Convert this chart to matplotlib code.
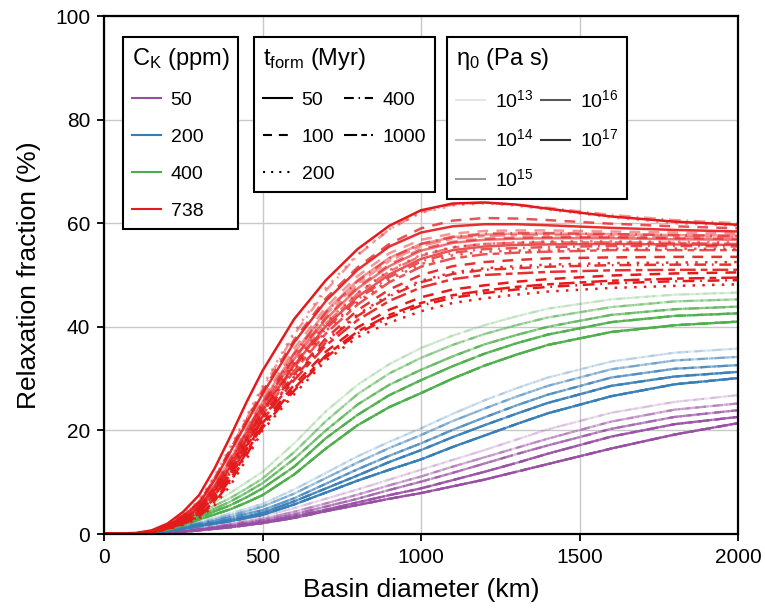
import matplotlib
matplotlib.use('Agg')
import matplotlib.pyplot as plt
from matplotlib.lines import Line2D

plt.rcParams['font.family'] = ['Liberation Sans', 'DejaVu Sans']
plt.rcParams['mathtext.fontset'] = 'custom'
plt.rcParams['mathtext.rm'] = 'Liberation Sans'
plt.rcParams['mathtext.it'] = 'Liberation Sans:italic'
plt.rcParams['mathtext.bf'] = 'Liberation Sans:bold'

# ---------------- data ----------------
diameter_km = [0, 100, 150, 200, 250, 300, 350, 400, 450, 500, 600, 700, 800, 900, 1000,
               1100, 1200, 1300, 1400, 1600, 1800, 2000]

ck_values = [50, 200, 400, 738]
ck_colors = ['#984ea3', '#377eb8', '#4daf4a', '#e41a1c']
tform_values = [50, 100, 200, 400, 1000]
tform_styles = ['-', (0, (4.3, 3.3)), (0, (1, 2.9)), (0, (4.7, 2.3, 0.7, 2.3)), (0, (6.3, 2, 2.7, 2))]
eta_labels = [r'10$^{\mathregular{13}}$', r'10$^{\mathregular{14}}$', r'10$^{\mathregular{15}}$',
              r'10$^{\mathregular{16}}$', r'10$^{\mathregular{17}}$']
eta_alphas = [0.1, 0.25, 0.4, 0.65, 0.8]
eta_alphas_red = [0.45, 0.6, 0.75, 0.9, 1.0]

# C_K = 50 ppm (rows: eta 1e13 .. 1e17), nearly independent of t_form
ck50_eta = [
    [0, 0, 0.15, 0.4, 0.75, 1.2, 1.7, 2.2, 2.8, 3.4, 5.0, 6.8, 8.6, 10.5, 12.4, 14.3, 16.2, 18.2, 20.2, 23.4, 25.5, 26.8],
    [0, 0, 0.1, 0.3, 0.6, 1.0, 1.4, 1.9, 2.4, 2.9, 4.3, 5.9, 7.6, 9.4, 11.1, 13.0, 14.8, 16.6, 18.4, 21.7, 24.0, 25.2],
    [0, 0, 0.1, 0.3, 0.55, 0.9, 1.3, 1.7, 2.1, 2.6, 3.8, 5.3, 6.8, 8.5, 10.1, 11.8, 13.6, 15.4, 17.1, 20.3, 22.6, 23.9],
    [0, 0, 0.05, 0.2, 0.5, 0.8, 1.15, 1.5, 1.9, 2.3, 3.4, 4.7, 6.1, 7.5, 8.8, 10.4, 12.0, 13.7, 15.5, 18.8, 21.2, 22.6],
    [0, 0, 0.05, 0.2, 0.4, 0.7, 1.0, 1.3, 1.7, 2.1, 3.1, 4.4, 5.6, 6.8, 7.9, 9.2, 10.5, 12.0, 13.5, 16.5, 19.2, 21.4],
]
# C_K = 200 ppm
ck200_eta = [
    [0, 0.05, 0.3, 0.9, 1.6, 2.4, 3.2, 4.0, 4.9, 5.8, 8.6, 11.8, 15.0, 17.8, 20.4, 23.2, 25.8, 28.1, 30.2, 33.3, 35.0, 35.8],
    [0, 0.05, 0.3, 0.8, 1.4, 2.1, 2.8, 3.6, 4.4, 5.3, 7.8, 10.8, 13.8, 16.6, 19.1, 21.8, 24.2, 26.5, 28.6, 31.8, 33.5, 34.2],
    [0, 0.05, 0.25, 0.7, 1.3, 1.9, 2.5, 3.2, 3.9, 4.6, 6.9, 9.7, 12.5, 15.1, 17.5, 20.1, 22.5, 24.8, 26.9, 30.2, 31.9, 32.6],
    [0, 0.05, 0.2, 0.6, 1.1, 1.7, 2.2, 2.8, 3.4, 4.1, 6.3, 8.8, 11.3, 13.9, 16.2, 18.7, 21.0, 23.2, 25.3, 28.6, 30.4, 31.3],
    [0, 0, 0.15, 0.5, 1.0, 1.5, 2.0, 2.5, 3.1, 3.7, 5.7, 8.0, 10.3, 12.4, 14.4, 16.8, 19.0, 21.2, 23.3, 26.6, 28.9, 30.1],
]
# C_K = 400 ppm
ck400_eta = [
    [0, 0.1, 0.6, 1.5, 2.9, 4.5, 6.2, 8.0, 10.0, 12.0, 17.5, 23.7, 28.8, 32.8, 35.9, 38.3, 40.3, 42.0, 43.5, 45.3, 46.2, 46.6],
    [0, 0.1, 0.5, 1.3, 2.6, 4.0, 5.5, 7.0, 8.8, 10.7, 15.8, 21.8, 27.0, 31.0, 34.0, 36.5, 38.6, 40.3, 41.8, 43.8, 44.9, 45.3],
    [0, 0.1, 0.45, 1.1, 2.3, 3.6, 4.9, 6.3, 8.0, 9.8, 14.5, 20.0, 25.0, 28.8, 31.7, 34.3, 36.6, 38.4, 40.0, 42.3, 43.4, 43.9],
    [0, 0.1, 0.4, 1.0, 2.0, 3.2, 4.4, 5.6, 7.1, 8.8, 13.0, 18.5, 23.0, 26.8, 29.7, 32.4, 34.8, 36.8, 38.5, 40.9, 42.1, 42.6],
    [0, 0, 0.3, 0.8, 1.7, 2.8, 3.8, 4.8, 6.1, 7.5, 11.5, 16.5, 21.0, 24.5, 27.2, 30.0, 32.5, 34.6, 36.5, 39.0, 40.3, 41.0],
]
# C_K = 738 ppm, one block per t_form (rows: eta 1e13 .. 1e17)
ck738_t50 = [
    [0, 0.1, 0.5, 1.5, 3.2, 5.5, 9.5, 14.6, 20.0, 25.5, 35.0, 43.0, 49.0, 53.3, 56.0, 57.3, 57.8, 58.0, 58.0, 57.9, 57.7, 57.6],
    [0, 0.1, 0.45, 1.4, 3.0, 5.2, 9.0, 13.8, 19.2, 24.6, 33.8, 41.5, 47.4, 51.7, 54.7, 56.2, 56.8, 57.0, 57.1, 57.1, 56.9, 56.8],
    [0, 0.1, 0.4, 1.3, 2.8, 4.9, 8.5, 13.1, 18.4, 23.8, 32.6, 40.1, 45.8, 50.1, 53.1, 54.8, 55.5, 55.8, 55.9, 56.0, 55.9, 55.8],
    [0, 0.1, 0.5, 1.6, 3.5, 6.0, 10.5, 16.0, 21.5, 27.0, 37.0, 45.0, 51.0, 55.5, 58.2, 59.4, 59.8, 59.8, 59.6, 59.1, 58.7, 58.4],
    [0, 0.2, 0.7, 2.0, 4.3, 7.5, 12.8, 19.0, 25.5, 31.5, 41.5, 49.0, 55.0, 59.5, 62.5, 63.8, 64.0, 63.6, 62.8, 61.3, 60.3, 59.7],
]
ck738_t100 = [
    [0, 0.1, 0.5, 1.5, 3.3, 5.6, 9.8, 15.0, 20.5, 26.0, 35.8, 43.8, 49.8, 54.2, 56.8, 58.0, 58.5, 58.6, 58.6, 58.4, 58.2, 58.0],
    [0, 0.1, 0.45, 1.4, 3.0, 5.2, 9.0, 13.9, 19.3, 24.8, 34.0, 41.8, 47.7, 52.0, 55.0, 56.4, 57.0, 57.2, 57.3, 57.3, 57.1, 57.0],
    [0, 0.1, 0.55, 1.7, 3.6, 6.2, 10.8, 16.5, 22.0, 27.5, 37.5, 45.5, 51.5, 56.0, 59.0, 60.5, 61.0, 60.9, 60.6, 59.9, 59.4, 59.0],
    [0, 0.1, 0.4, 1.2, 2.5, 4.4, 7.8, 12.2, 17.5, 22.7, 30.8, 37.8, 43.2, 47.2, 50.0, 51.7, 52.5, 52.9, 53.2, 53.4, 53.5, 53.5],
    [0, 0.1, 0.35, 1.1, 2.3, 3.9, 7.0, 11.2, 16.3, 21.4, 28.8, 35.2, 39.9, 43.3, 45.7, 47.2, 48.0, 48.7, 49.2, 49.9, 50.3, 50.5],
]
ck738_t200 = [
    [0, 0.1, 0.6, 1.8, 3.8, 6.5, 11.3, 17.0, 22.8, 28.5, 39.0, 47.5, 54.0, 58.8, 62.0, 63.4, 63.8, 63.4, 62.6, 61.1, 60.0, 59.5],
    [0, 0.1, 0.45, 1.4, 2.9, 5.0, 8.7, 13.4, 18.8, 24.2, 33.2, 40.8, 46.6, 50.9, 53.9, 55.4, 56.0, 56.3, 56.5, 56.5, 56.4, 56.3],
    [0, 0.1, 0.4, 1.3, 2.7, 4.7, 8.2, 12.7, 18.0, 23.3, 31.9, 39.2, 44.8, 49.1, 52.1, 53.8, 54.5, 54.7, 54.9, 55.1, 55.1, 55.0],
    [0, 0.1, 0.4, 1.2, 2.5, 4.3, 7.6, 12.0, 17.2, 22.4, 30.4, 37.2, 42.4, 46.2, 48.9, 50.5, 51.3, 51.7, 52.0, 52.3, 52.4, 52.5],
    [0, 0.1, 0.3, 0.9, 1.8, 3.0, 5.6, 9.5, 14.5, 20.0, 27.0, 33.5, 38.0, 40.8, 43.0, 44.6, 45.5, 46.2, 46.8, 47.5, 47.9, 48.2],
]
ck738_t400 = [
    [0, 0.1, 0.55, 1.7, 3.7, 6.3, 11.0, 16.5, 22.3, 28.0, 38.5, 47.0, 53.8, 58.8, 62.2, 63.6, 64.0, 63.6, 63.0, 61.6, 60.6, 60.0],
    [0, 0.1, 0.5, 1.5, 3.2, 5.4, 9.4, 14.4, 19.8, 25.2, 34.8, 42.8, 48.8, 53.2, 56.0, 57.4, 58.0, 58.1, 58.1, 57.9, 57.7, 57.5],
    [0, 0.1, 0.4, 1.3, 2.8, 4.8, 8.4, 12.9, 18.2, 23.5, 32.2, 39.6, 45.3, 49.6, 52.6, 54.3, 55.0, 55.2, 55.4, 55.6, 55.6, 55.5],
    [0, 0.1, 0.4, 1.2, 2.5, 4.3, 7.5, 11.9, 17.1, 22.3, 30.2, 37.0, 42.1, 45.9, 48.6, 50.2, 51.0, 51.3, 51.6, 51.9, 52.0, 52.0],
    [0, 0.1, 0.3, 1.0, 2.0, 3.3, 6.2, 10.2, 15.3, 20.5, 27.7, 34.1, 38.7, 41.8, 44.1, 45.6, 46.5, 47.2, 47.7, 48.4, 48.8, 49.0],
]
ck738_t1000 = [
    [0, 0.1, 0.5, 1.5, 3.1, 5.4, 9.3, 14.2, 19.6, 25.0, 34.4, 42.4, 48.3, 52.7, 55.6, 57.0, 57.5, 57.7, 57.7, 57.5, 57.3, 57.2],
    [0, 0.1, 0.45, 1.4, 2.9, 5.0, 8.6, 13.3, 18.6, 24.0, 33.0, 40.6, 46.4, 50.7, 53.7, 55.3, 56.0, 56.2, 56.3, 56.3, 56.2, 56.0],
    [0, 0.1, 0.4, 1.3, 2.7, 4.6, 8.0, 12.5, 17.7, 23.0, 31.5, 38.7, 44.3, 48.6, 51.6, 53.2, 54.0, 54.3, 54.5, 54.8, 54.8, 54.8],
    [0, 0.1, 0.35, 1.1, 2.4, 4.1, 7.3, 11.6, 16.8, 22.0, 29.7, 36.4, 41.3, 45.0, 47.6, 49.2, 50.0, 50.3, 50.6, 50.9, 51.0, 51.0],
    [0, 0.1, 0.3, 1.0, 2.1, 3.5, 6.5, 10.7, 15.8, 21.0, 28.1, 34.5, 39.1, 42.3, 44.6, 46.1, 47.0, 47.7, 48.2, 48.9, 49.3, 49.5],
]

x_ticks = [0, 500, 1000, 1500, 2000]
y_ticks = [0, 20, 40, 60, 80, 100]

# ---------------- build table ----------------
curves = {
    50: [ck50_eta] * 5,
    200: [ck200_eta] * 5,
    400: [ck400_eta] * 5,
    738: [ck738_t50, ck738_t100, ck738_t200, ck738_t400, ck738_t1000],
}

fig = plt.figure(figsize=(7.65, 6.1), dpi=100)
ax = fig.add_axes([104 / 765, 1 - 534 / 610, (738 - 104) / 765, (534 - 16) / 610])

for ck, col in zip(ck_values, ck_colors):
    alphas = eta_alphas_red if ck == 738 else eta_alphas
    lw = 1.8 if ck == 738 else 1.6
    for ti, ls in enumerate(tform_styles):
        for ei, a in enumerate(alphas):
            ax.plot(diameter_km, curves[ck][ti][ei], color=col, ls=ls, lw=lw, alpha=a)

ax.set_xlim(0, 2000)
ax.set_ylim(0, 100)
ax.set_xticks(x_ticks)
ax.set_yticks(y_ticks)
ax.grid(True, color='#c8c8c8', lw=1)
ax.set_axisbelow(True)
for s in ax.spines.values():
    s.set_linewidth(1.6)
    s.set_color('black')
ax.tick_params(direction='out', length=5, width=1.3, labelsize=15, pad=5)
ax.set_xlabel('Basin diameter (km)', fontsize=19, labelpad=8)
ax.set_ylabel('Relaxation fraction (%)', fontsize=19, labelpad=10)

common = dict(loc='upper left', bbox_transform=fig.transFigure, frameon=True, fancybox=False,
              edgecolor='black', framealpha=1, fontsize=14, title_fontsize=17,
              borderaxespad=0, alignment='left', borderpad=0.45)

h1 = [Line2D([], [], color=c, lw=1.5) for c in ck_colors]
leg1 = ax.legend(h1, [str(v) for v in ck_values], title=r'C$_{\mathregular{K}}$ (ppm)',
                 bbox_to_anchor=(123 / 765, 1 - 37 / 610), handlelength=1.5, handletextpad=0.5,
                 labelspacing=1.0, **common)
leg1.get_frame().set_linewidth(1.5)
ax.add_artist(leg1)

h2 = [Line2D([], [], color='black', lw=1.5, ls=ls) for ls in tform_styles]
leg2 = ax.legend(h2, [str(v) for v in tform_values], title=r't$_{\mathregular{form}}$ (Myr)', ncol=2,
                 bbox_to_anchor=(254 / 765, 1 - 37 / 610), handlelength=1.5, handletextpad=0.5,
                 labelspacing=1.0, columnspacing=0.5, **common)
leg2.get_frame().set_linewidth(1.5)
ax.add_artist(leg2)

h3 = [Line2D([], [], color='black', lw=1.5, alpha=a) for a in eta_alphas]
leg3 = ax.legend(h3, eta_labels, title=r'$\mathregular{\eta_0}$ (Pa s)', ncol=2,
                 bbox_to_anchor=(447 / 765, 1 - 37 / 610), handlelength=1.5, handletextpad=0.5,
                 labelspacing=0.9, columnspacing=0.4, **common)
leg3.get_frame().set_linewidth(1.5)

fig.savefig('out.png', dpi=100)
